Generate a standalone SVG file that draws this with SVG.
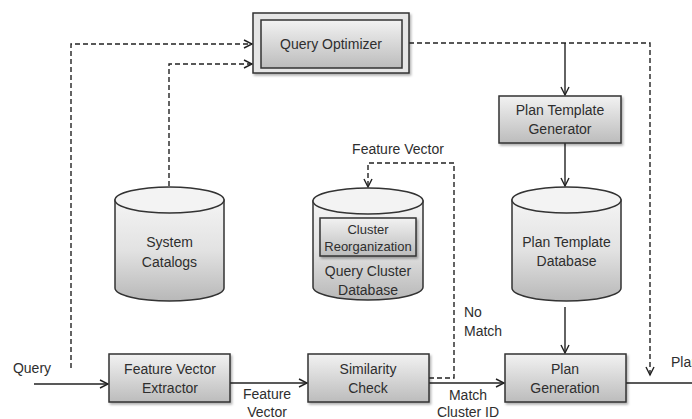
<svg xmlns="http://www.w3.org/2000/svg" width="692" height="419" viewBox="0 0 692 419">
<style>
text{font-family:"Liberation Sans",Arial,sans-serif;font-size:14px;fill:#2e2e2e;text-anchor:middle}
.box{fill:url(#gBox);stroke:#333;stroke-width:1.5;filter:url(#sh)}
.cyl{fill:url(#gCyl);stroke:#333;stroke-width:1.5}
.top{fill:#f3f3f3;stroke:#333;stroke-width:1.5}
.c{fill:none;stroke:#222;stroke-width:1.4}
.d{fill:none;stroke:#222;stroke-width:1.4;stroke-dasharray:5 3}
</style>
<defs>
<linearGradient id="gBox" x1="0" y1="0" x2="0" y2="1">
<stop offset="0" stop-color="#f2f2f2"/><stop offset="1" stop-color="#bcbcbc"/>
</linearGradient>
<linearGradient id="gCyl" x1="0" y1="0" x2="0" y2="1">
<stop offset="0" stop-color="#f4f4f4"/><stop offset="0.5" stop-color="#e2e2e2"/><stop offset="1" stop-color="#b8b8b8"/>
</linearGradient>
<filter id="sh" x="-10%" y="-10%" width="125%" height="135%">
<feDropShadow dx="1.5" dy="2" stdDeviation="1.2" flood-color="#000" flood-opacity="0.3"/>
</filter>
<marker id="a" markerUnits="userSpaceOnUse" markerWidth="10" markerHeight="10" refX="8" refY="4" orient="auto" overflow="visible">
<path d="M0,0 L8,4 L0,8" fill="none" stroke="#222" stroke-width="1.4"/>
</marker>
</defs>

<g id="connectors">
<path class="d" d="M71,368 V44 H252" marker-end="url(#a)"/>
<path class="d" d="M169,210 V64 H252" marker-end="url(#a)"/>
<path class="d" d="M409,43 H650 V375" marker-end="url(#a)"/>
<path class="c" d="M565,43 V95" marker-end="url(#a)"/>
<path class="c" d="M565,143 V186" marker-end="url(#a)"/>
<path class="c" d="M565,307 V353" marker-end="url(#a)"/>
<path class="c" d="M34,384 H108" marker-end="url(#a)"/>
<path class="c" d="M230,383 H307" marker-end="url(#a)"/>
<path class="c" d="M429,383 H504" marker-end="url(#a)"/>
<path class="d" d="M429,378 H454 V163 H368 V187" marker-end="url(#a)"/>
<path class="c" d="M626,383 H692"/>
<text x="32" y="373">Query</text>
<text x="267" y="399">Feature</text>
<text x="267" y="417">Vector</text>
<text x="468" y="400">Match</text>
<text x="468" y="417">Cluster ID</text>
<text x="464" y="317" style="text-anchor:start">No</text>
<text x="464" y="336" style="text-anchor:start">Match</text>
<text x="398" y="154">Feature Vector</text>
<text x="671" y="367" style="text-anchor:start">Plan</text>
</g>

<g id="query-optimizer">
<rect x="253" y="13" width="156" height="60" fill="#e6e6e6" stroke="#333" stroke-width="1.5" filter="url(#sh)"/>
<rect x="261" y="20" width="141" height="48" fill="url(#gBox)" stroke="#333" stroke-width="1.5"/>
<text x="331" y="49">Query Optimizer</text>
</g>

<g id="plan-template-generator">
<rect class="box" x="499" y="96" width="122" height="47"/>
<text x="560" y="115">Plan Template</text>
<text x="560" y="134">Generator</text>
</g>

<g id="system-catalogs">
<path class="cyl" d="M115,200 V288 A54.5,13 0 0 0 224,288 V200 Z"/>
<ellipse class="top" cx="169.5" cy="200" rx="54.5" ry="13"/>
<text x="169.5" y="247">System</text>
<text x="169.5" y="267">Catalogs</text>
</g>

<g id="query-cluster-database">
<path class="cyl" d="M313,201 V287 A55,13 0 0 0 423,287 V201 Z"/>
<ellipse class="top" cx="368" cy="201" rx="55" ry="13"/>
<rect class="box" x="320" y="218" width="96" height="38"/>
<text x="368" y="234" style="font-size:13px">Cluster</text>
<text x="368" y="251" style="font-size:13px">Reorganization</text>
<text x="368" y="276">Query Cluster</text>
<text x="368" y="295">Database</text>
</g>

<g id="plan-template-database">
<path class="cyl" d="M512,200 V288 A54.5,13 0 0 0 621,288 V200 Z"/>
<ellipse class="top" cx="566.5" cy="200" rx="54.5" ry="13"/>
<text x="566.5" y="247">Plan Template</text>
<text x="566.5" y="266">Database</text>
</g>

<g id="feature-vector-extractor">
<rect class="box" x="109" y="354" width="121" height="48"/>
<text x="170" y="374">Feature Vector</text>
<text x="170" y="393">Extractor</text>
</g>

<g id="similarity-check">
<rect class="box" x="308" y="354" width="121" height="48"/>
<text x="368" y="374">Similarity</text>
<text x="368" y="393">Check</text>
</g>

<g id="plan-generation">
<rect class="box" x="505" y="354" width="121" height="48"/>
<text x="565" y="374">Plan</text>
<text x="565" y="393">Generation</text>
</g>
</svg>
